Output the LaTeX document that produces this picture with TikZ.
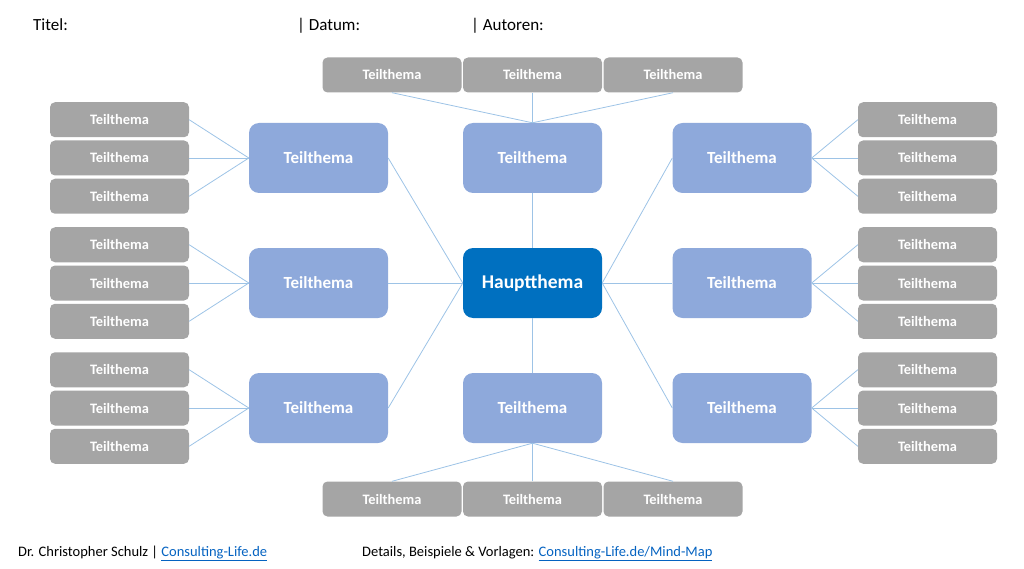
\documentclass[tikz,border=0pt]{standalone}
\usepackage{fontspec}
\setmainfont{Carlito}
\definecolor{graybox}{HTML}{A5A5A5}
\definecolor{bluebox}{HTML}{8EA9DB}
\definecolor{mainbox}{HTML}{0070C0}
\definecolor{linec}{HTML}{9DC3E6}
\definecolor{linkc}{HTML}{0563C1}
\begin{document}
\begin{tikzpicture}[x=1pt,y=-1pt,
  sub/.style={fill=bluebox, rounded corners=10pt, minimum width=139pt, minimum height=70pt, text=white, font=\bfseries\fontsize{17}{19}\selectfont, inner sep=0pt},
  mainnode/.style={fill=mainbox, rounded corners=10pt, minimum width=139pt, minimum height=70pt, text=white, font=\bfseries\fontsize{19.5}{22}\selectfont, inner sep=0pt},
  leaf/.style={fill=graybox, rounded corners=5pt, minimum width=139pt, minimum height=35pt, text=white, font=\bfseries\fontsize{14.4}{16}\selectfont, inner sep=0pt},
  conn/.style={draw=linec, line width=0.8pt},
  head/.style={anchor=base west, inner sep=0pt, font=\fontsize{17}{20}\selectfont},
  foot/.style={anchor=base west, inner sep=0pt, font=\fontsize{14.5}{16}\selectfont}]
\useasboundingbox (0,0) rectangle (1024,569);
% header
\node[head] (title) at (33,31) {Titel:};
\node[head] (datum) at (297,31) {| Datum:};
\node[head] (autoren) at (471,31) {| Autoren:};
% main
\node[mainnode] (H) at (532.5,283) {Hauptthema};
% sub topics
\node[sub] (B1) at (318.5,158) {Teilthema};
\node[sub] (B2) at (318.5,283) {Teilthema};
\node[sub] (B3) at (318.5,408) {Teilthema};
\node[sub] (BT) at (532.5,158) {Teilthema};
\node[sub] (BB) at (532.5,408) {Teilthema};
\node[sub] (R1) at (742,158) {Teilthema};
\node[sub] (R2) at (742,283) {Teilthema};
\node[sub] (R3) at (742,408) {Teilthema};
% left and right leaves
\foreach \g/\yc in {1/158,2/283,3/408}{
  \foreach \k/\dy in {1/-38.25,2/0,3/38.25}{
    \node[leaf] (L\g\k) at (119.5,\yc+\dy) {Teilthema};
    \node[leaf] (Q\g\k) at (927.5,\yc+\dy) {Teilthema};
  }
}
% top and bottom leaves
\node[leaf] (T1) at (392,75) {Teilthema};
\node[leaf] (T2) at (532.5,75) {Teilthema};
\node[leaf] (T3) at (673,75) {Teilthema};
\node[leaf] (U1) at (392,499) {Teilthema};
\node[leaf] (U2) at (532.5,499) {Teilthema};
\node[leaf] (U3) at (673,499) {Teilthema};
% connectors
\foreach \g in {1,2,3}{
  \foreach \k in {1,2,3}{
    \draw[conn] (L\g\k.east) -- (B\g.west);
    \draw[conn] (Q\g\k.west) -- (R\g.east);
  }
}
\foreach \k in {1,2,3}{
  \draw[conn] (T\k.south) -- (BT.north);
  \draw[conn] (U\k.north) -- (BB.south);
}
\draw[conn] (H.west) -- (B1.east);
\draw[conn] (H.west) -- (B2.east);
\draw[conn] (H.west) -- (B3.east);
\draw[conn] (H.east) -- (R1.west);
\draw[conn] (H.east) -- (R2.west);
\draw[conn] (H.east) -- (R3.west);
\draw[conn] (H.north) -- (BT.south);
\draw[conn] (H.south) -- (BB.north);
% footer
\node[foot] (f1) at (18,556) {Dr. Christopher Schulz | \textcolor{linkc}{\underline{Consulting-Life.de}}};
\node[foot] (f2) at (362,556) {Details, Beispiele \& Vorlagen: \textcolor{linkc}{\underline{Consulting-Life.de/Mind-Map}}};
\end{tikzpicture}
\end{document}
